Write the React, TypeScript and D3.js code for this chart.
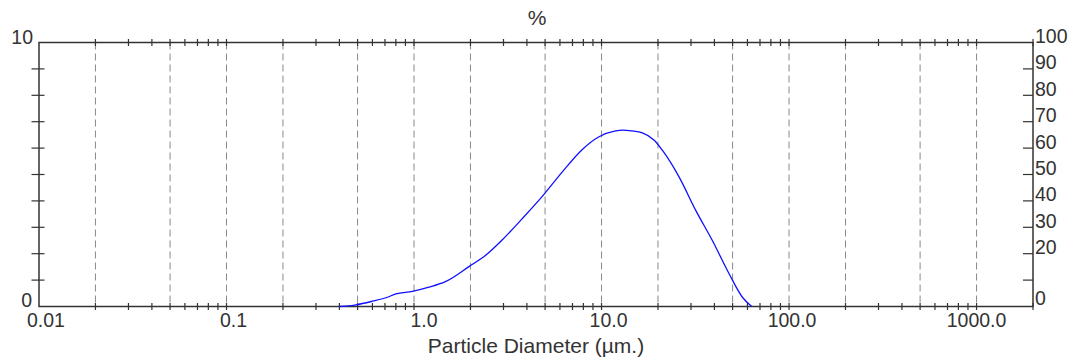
import React, { useEffect, useRef } from 'react'
import * as d3 from 'd3'

// particle size distribution
const diameters = [0.40, 0.45, 0.49, 0.60, 0.72, 0.80, 0.98, 1.2, 1.48, 1.97, 2.41, 2.96, 3.78, 4.83, 6.18, 7.9, 9.7, 11.9, 12.9, 14.5, 16.5, 19.1, 21.1, 25.9, 31.8, 39.0, 47.9, 56.4, 63.2]
const percents = [0, 0.02, 0.06, 0.2, 0.35, 0.48, 0.57, 0.73, 0.95, 1.52, 1.94, 2.53, 3.33, 4.17, 5.1, 5.95, 6.43, 6.65, 6.68, 6.65, 6.58, 6.3, 5.92, 4.91, 3.64, 2.5, 1.24, 0.35, 0]

const xTickValues = [0.01, 0.1, 1, 10, 100, 1000]
const xTickLabels = ['0.01', '0.1', '1.0', '10.0', '100.0', '1000.0']
const gridValues = [0.02, 0.05, 0.1, 0.2, 0.5, 1, 2, 5, 10, 20, 50, 100, 200, 500, 1000]
const leftTicks = [1, 2, 3, 4, 5, 6, 7, 8, 9]
const rightLabels = ['100', '90', '80', '70', '60', '50', '40', '30', '20', '', '0']
const rightValues = [100, 90, 80, 70, 60, 50, 40, 30, 20, 10, 0]

const W = 1071
const H = 358
const FONT = '"Liberation Sans", Arial, sans-serif'
const INK = '#333'

const App: React.FC = () => {
  const svgRef = useRef<SVGSVGElement | null>(null)

  useEffect(() => {
    if (!svgRef.current) return
    const svg = d3.select(svgRef.current)
    svg.selectAll('*').remove()

    const x = d3.scaleLog().domain([0.01, 2000]).range([39, 1033])
    const y = d3.scaleLinear().domain([0, 10]).range([306.5, 42.5])
    const yr = d3.scaleLinear().domain([0, 100]).range([306.5, 42.5])
    const [top, bottom] = [y(10), y(0)]
    const [left, right] = x.range()

    // dashed grid
    svg.append('g')
      .selectAll('line')
      .data(gridValues)
      .join('line')
      .attr('x1', d => x(d)).attr('x2', d => x(d))
      .attr('y1', top).attr('y2', bottom)
      .attr('stroke', '#888')
      .attr('stroke-width', 1)
      .attr('stroke-dasharray', '7,4')

    // frame
    svg.append('rect')
      .attr('x', left).attr('y', top)
      .attr('width', right - left).attr('height', bottom - top)
      .attr('fill', 'none')
      .attr('stroke', INK)
      .attr('stroke-width', 1.5)

    // log minor ticks on top and bottom
    const minor: number[] = []
    for (let e = -2; e <= 3; e++) {
      for (let m = 1; m <= 9; m++) {
        const v = m * Math.pow(10, e)
        if (v > 0.01 && v <= 2000) minor.push(v)
      }
    }
    ;[top, bottom].forEach(yy => {
      svg.append('g')
        .selectAll('line')
        .data(minor)
        .join('line')
        .attr('x1', d => x(d)).attr('x2', d => x(d))
        .attr('y1', yy - 3.5).attr('y2', yy + 3.5)
        .attr('stroke', INK)
        .attr('stroke-width', 1.2)
    })

    // left ticks
    svg.append('g')
      .selectAll('line')
      .data(leftTicks)
      .join('line')
      .attr('x1', left - 7.5).attr('x2', left + 5.5)
      .attr('y1', d => y(d)).attr('y2', d => y(d))
      .attr('stroke', INK)
      .attr('stroke-width', 1.2)

    // right ticks
    svg.append('g')
      .selectAll('line')
      .data(rightValues.filter(v => v > 0 && v < 100))
      .join('line')
      .attr('x1', right - 10).attr('x2', right)
      .attr('y1', d => yr(d)).attr('y2', d => yr(d))
      .attr('stroke', INK)
      .attr('stroke-width', 1.2)

    const text = (size: number) =>
      svg.append('text')
        .attr('font-family', FONT)
        .attr('font-size', size)
        .attr('fill', INK)

    // left labels
    text(19.5).attr('x', left - 6).attr('y', top + 1.5).attr('text-anchor', 'end').text('10')
    text(19.5).attr('x', left - 7).attr('y', bottom + 0.5).attr('text-anchor', 'end').text('0')

    // right labels
    rightValues.forEach((v, i) => {
      if (!rightLabels[i]) return
      text(19.5)
        .attr('x', right + 2)
        .attr('y', v === 0 ? bottom - 2 : yr(v) + 0.5)
        .text(rightLabels[i])
    })

    // x labels
    const nudge = [7, 7, 10, 7, 3, 0]
    xTickValues.forEach((v, i) => {
      text(19.5)
        .attr('x', x(v) + nudge[i])
        .attr('y', bottom + 20.5)
        .attr('text-anchor', 'middle')
        .text(xTickLabels[i])
    })

    text(21).attr('x', (left + right) / 2).attr('y', 353).attr('text-anchor', 'middle').text('Particle Diameter (µm.)')
    text(21).attr('x', (left + right) / 2 + 1).attr('y', 25).attr('text-anchor', 'middle').text('%')

    // curve
    const pts = diameters.map((d, i) => [d, percents[i]] as [number, number])
    svg.append('path')
      .datum(pts)
      .attr('fill', 'none')
      .attr('stroke', '#1010ff')
      .attr('stroke-width', 1.3)
      .attr('d', d3.line<[number, number]>().x(d => x(d[0])).y(d => y(d[1])).curve(d3.curveMonotoneX))
  }, [])

  return (
    <svg
      ref={svgRef}
      width={W}
      height={H}
      style={{ position: 'absolute', left: 0, top: 0, background: '#fff' }}
    />
  )
}

export default App
